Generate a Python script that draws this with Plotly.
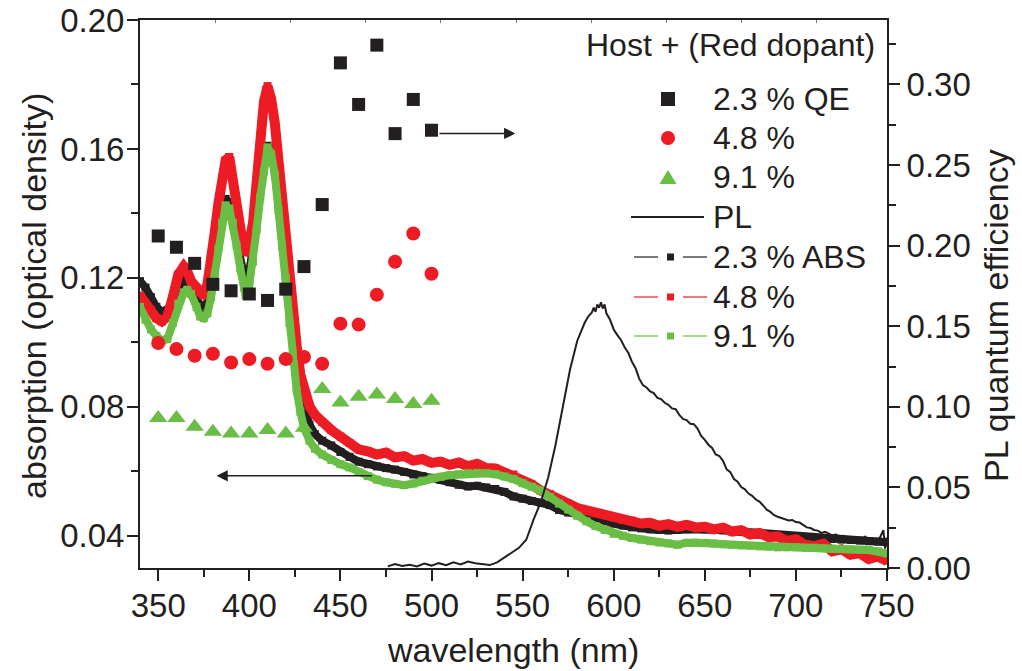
import plotly.graph_objects as go

FONT = "Liberation Sans, Arial, Helvetica, sans-serif"
INK = "#231f20"
RED = "#ed1c24"
GREEN = "#6abd45"

# ---------------- data ----------------
abs_wl = [340, 343, 346, 349, 352, 355, 358, 361, 364, 366,
          368, 371, 373, 375, 377, 379, 381, 383, 385, 387,
          389, 391, 393, 395, 397, 398, 400, 402, 404, 406,
          408, 410, 412, 414, 416, 418, 420, 422, 424, 426,
          428, 430, 433, 436, 440, 445, 450, 455, 460, 465,
          470, 475, 480, 485, 490, 495, 500, 505, 510, 515,
          520, 525, 530, 535, 540, 545, 550, 555, 560, 565,
          570, 575, 580, 585, 590, 595,
          600, 605, 610, 615, 620, 625, 630, 635, 640, 645,
          650, 655, 660, 665, 670, 675, 680, 685, 690, 695,
          700, 705, 710, 715, 720, 725, 730, 735, 740, 745, 750]

abs_23 = [0.119, 0.117, 0.114, 0.111, 0.1095, 0.110, 0.113, 0.117, 0.1192, 0.119,
          0.117, 0.114, 0.1115, 0.1108, 0.112, 0.116, 0.122, 0.130, 0.138, 0.1445,
          0.1435, 0.139, 0.133, 0.126, 0.1205, 0.1195, 0.122, 0.128, 0.137, 0.147,
          0.155, 0.161, 0.159, 0.153, 0.143, 0.132, 0.121, 0.109, 0.097, 0.089,
          0.083, 0.079, 0.0745, 0.0715, 0.0695, 0.068, 0.066, 0.0645, 0.063, 0.0622,
          0.0615, 0.061, 0.0605, 0.0598, 0.059, 0.0585, 0.058, 0.0573, 0.0566, 0.0558,
          0.0553, 0.0555, 0.055, 0.0545, 0.0536, 0.0522, 0.0515, 0.0508, 0.0503, 0.0495,
          0.048, 0.0472, 0.0465, 0.046, 0.0457, 0.0445,
          0.0438, 0.0432, 0.0426, 0.0423, 0.042, 0.0418, 0.0416, 0.0418, 0.042, 0.0421,
          0.042, 0.0419, 0.0417, 0.0415, 0.0412, 0.0409, 0.0406, 0.0403, 0.040, 0.0398,
          0.0395, 0.0394, 0.0392, 0.0391, 0.039, 0.0388, 0.0387, 0.0385, 0.0383, 0.0382, 0.038]

abs_48 = [0.1145, 0.112, 0.110, 0.1075, 0.1065, 0.108, 0.114, 0.121, 0.1235, 0.122,
          0.119, 0.1168, 0.1155, 0.1145, 0.118, 0.124, 0.134, 0.143, 0.151, 0.1565,
          0.1575, 0.150, 0.140, 0.1335, 0.1285, 0.1283, 0.131, 0.137, 0.150, 0.164,
          0.1745, 0.1795, 0.1755, 0.168, 0.155, 0.142, 0.129, 0.119, 0.108, 0.099,
          0.090, 0.085, 0.0802, 0.0775, 0.0752, 0.0728, 0.0708, 0.0688, 0.0668, 0.0662,
          0.0652, 0.0658, 0.0643, 0.0647, 0.0633, 0.0638, 0.0626, 0.0630, 0.0620, 0.0627,
          0.0616, 0.0623, 0.0610, 0.0609, 0.0596, 0.0590, 0.0570, 0.0559, 0.0540, 0.0529,
          0.0510, 0.0500, 0.0486, 0.0480, 0.0470, 0.0464,
          0.0457, 0.0449, 0.0447, 0.0438, 0.0440, 0.0431, 0.0436, 0.0428, 0.0434, 0.0426,
          0.0428, 0.0420, 0.0425, 0.0413, 0.0417, 0.0404, 0.0409, 0.0396, 0.0398, 0.0384,
          0.0389, 0.0372, 0.0368, 0.0375, 0.0352, 0.0358, 0.0341, 0.0346, 0.0328, 0.0336, 0.0322]

abs_91 = [0.111, 0.107, 0.104, 0.102, 0.1005, 0.101, 0.106, 0.112, 0.1155, 0.1162,
          0.115, 0.111, 0.108, 0.1075, 0.109, 0.114, 0.121, 0.129, 0.137, 0.1425,
          0.1415, 0.137, 0.130, 0.123, 0.117, 0.1145, 0.118, 0.125, 0.135, 0.145,
          0.153, 0.1605, 0.1585, 0.152, 0.141, 0.130, 0.120, 0.106, 0.094, 0.085,
          0.0785, 0.0735, 0.0695, 0.067, 0.0652, 0.0635, 0.0622, 0.0612, 0.0598, 0.0585,
          0.0574, 0.0566, 0.0561, 0.0557, 0.0562, 0.0571, 0.0578, 0.0583, 0.0588, 0.0591,
          0.0594, 0.0595, 0.0594, 0.0591, 0.0584, 0.0576, 0.0563, 0.0552, 0.054, 0.052,
          0.050, 0.0481, 0.0462, 0.0445, 0.043, 0.0418,
          0.0406, 0.0400, 0.0393, 0.0388, 0.0383, 0.0379, 0.0376, 0.0372, 0.0378, 0.0379,
          0.0378, 0.0376, 0.0374, 0.0372, 0.0370, 0.0369, 0.0367, 0.0366, 0.0364, 0.0364,
          0.0364, 0.0363, 0.0363, 0.0361, 0.0360, 0.0359, 0.0358, 0.0357, 0.0356, 0.0352, 0.0345]

pl_wl = [476, 480, 484, 488, 492, 496, 500, 504, 508, 512,
         516, 520, 524, 528, 532, 536, 540, 544, 548, 552,
         556, 560, 564, 568, 572, 576, 580, 584, 586, 588,
         589, 590, 591, 592, 593, 594, 595, 596, 598, 600,
         602, 604, 606, 608, 610, 612, 614, 616, 618, 620,
         622, 624, 626, 628, 630, 632, 634, 636, 638, 640,
         642, 644, 646, 648, 650, 652, 654, 656, 658, 660,
         662, 664, 666, 668, 670, 672, 674, 676, 678, 680,
         682, 684, 686, 688, 690, 692, 694, 696, 698, 700,
         702, 704, 706, 708, 710, 712, 714, 716, 718, 720,
         722, 724, 726, 728, 730, 732, 734, 736, 738, 740,
         742, 744, 746, 748, 749, 750]

pl_int = [0.001, 0.0025, 0.0012, 0.002, 0.001, 0.0028, 0.0015, 0.003, 0.0018, 0.0035,
          0.0022, 0.004, 0.003, 0.0025, 0.0018, 0.0035, 0.0065, 0.009, 0.0125, 0.0175,
          0.030, 0.041, 0.056, 0.076, 0.099, 0.123, 0.141, 0.152, 0.156, 0.1585,
          0.1615, 0.159, 0.1635, 0.1615, 0.1648, 0.161, 0.1635, 0.158, 0.154, 0.148,
          0.1445, 0.1415, 0.137, 0.1335, 0.128, 0.124, 0.1175, 0.1135, 0.112, 0.1095,
          0.1085, 0.1055, 0.1048, 0.1025, 0.1012, 0.099, 0.0985, 0.095, 0.0925, 0.0918,
          0.0895, 0.0892, 0.0865, 0.082, 0.0795, 0.0765, 0.0745, 0.0705, 0.0695, 0.0665,
          0.0612, 0.0595, 0.0552, 0.0535, 0.0502, 0.0488, 0.0462, 0.0448, 0.0425, 0.0412,
          0.0388, 0.0362, 0.0348, 0.0328, 0.0318, 0.031, 0.0302, 0.0295, 0.0298, 0.0285,
          0.0282, 0.0265, 0.0252, 0.0248, 0.0236, 0.0232, 0.0218, 0.0225, 0.0212, 0.0203,
          0.0208, 0.0194, 0.0199, 0.0186, 0.0192, 0.0178, 0.0188, 0.0176, 0.0195, 0.0172,
          0.0185, 0.0168, 0.0186, 0.0235, 0.012, 0.019]

qe_wl = [350, 360, 370, 380, 390, 400, 410, 420, 430, 440, 450, 460, 470, 480, 490, 500]
qe_23 = [0.206, 0.199, 0.189, 0.176, 0.172, 0.170, 0.166, 0.173, 0.187, 0.2255,
         0.3134, 0.2876, 0.3244, 0.2695, 0.2907, 0.2716]
qe_48 = [0.1396, 0.1358, 0.1317, 0.1329, 0.1275, 0.1296, 0.1267, 0.1296, 0.1309, 0.1267,
         0.1516, 0.151, 0.1696, 0.190, 0.2075, 0.1826]
qe_91 = [0.093, 0.093, 0.0876, 0.0845, 0.0835, 0.0835, 0.0856, 0.0835, 0.087, 0.111,
         0.1027, 0.1063, 0.1077, 0.1048, 0.1017, 0.1038]

x_ticks = [350, 400, 450, 500, 550, 600, 650, 700, 750]
x_minor = [375, 425, 475, 525, 575, 625, 675, 725]
yl_ticks = [0.04, 0.08, 0.12, 0.16, 0.20]
yl_minor = [0.06, 0.10, 0.14, 0.18]
yr_ticks = [0.00, 0.05, 0.10, 0.15, 0.20, 0.25, 0.30]
yr_minor = [0.025, 0.075, 0.125, 0.175, 0.225, 0.275, 0.325]
top_ticks = [381.4, 422.7, 463.9, 505.2, 546.4, 587.7, 628.9, 670.2, 711.4]

legend_title = "Host + (Red dopant)"
legend_items = [
    ("2.3 % QE", "square", INK),
    ("4.8 %", "circle", RED),
    ("9.1 %", "triangle", GREEN),
    ("PL", "line", INK),
    ("2.3 % ABS", "abs", INK),
    ("4.8 %", "abs", RED),
    ("9.1 %", "abs", GREEN),
]

# ---------------- geometry ----------------
W, H = 1022, 671
L, R, T, B = 140, 887, 20, 568


def fx(px):
    return (px - L) / (R - L)


def fy(py):
    return (B - py) / (B - T)


fig = go.Figure()

for ys, col, lw in [(abs_23, INK, 8), (abs_48, RED, 10), (abs_91, GREEN, 8)]:
    fig.add_trace(go.Scatter(
        x=abs_wl, y=ys, mode="lines+markers", yaxis="y",
        line=dict(color=col, width=lw),
        marker=dict(symbol="square", size=8, color=col, line=dict(width=0)),
        showlegend=False, hoverinfo="skip"))

fig.add_trace(go.Scatter(
    x=pl_wl, y=pl_int, mode="lines", yaxis="y2",
    line=dict(color=INK, width=2), showlegend=False, hoverinfo="skip"))

for ys, sym, col, sz in [(qe_23, "square", INK, 13), (qe_48, "circle", RED, 14),
                         (qe_91, "triangle-up", GREEN, 16)]:
    fig.add_trace(go.Scatter(
        x=qe_wl, y=ys, mode="markers", yaxis="y2",
        marker=dict(symbol=sym, size=sz, color=col, line=dict(width=0)),
        showlegend=False, hoverinfo="skip"))

# dummy trace for the top tick axis
fig.add_trace(go.Scatter(x=[None], y=[None], xaxis="x2", yaxis="y",
                         showlegend=False, hoverinfo="skip"))

tickfont = dict(family=FONT, size=33, color=INK)

fig.update_layout(
    template="none",
    width=W, height=H, autosize=False,
    margin=dict(l=L, r=W - R, t=T, b=H - B, pad=0, autoexpand=False),
    paper_bgcolor="white", plot_bgcolor="white",
    font=dict(family=FONT, color=INK),
    showlegend=False,
    xaxis=dict(range=[340, 750], tickvals=x_ticks, ticks="outside", ticklen=11,
               tickwidth=2, tickcolor=INK, showline=True, linewidth=2, linecolor=INK,
               mirror=True, showgrid=False, zeroline=False, tickfont=tickfont,
               automargin=False, ticklabelstandoff=-4,
               minor=dict(tickvals=x_minor, ticks="outside", ticklen=7, tickwidth=2,
                          tickcolor=INK, showgrid=False)),
    xaxis2=dict(range=[340, 750], overlaying="x", side="top", anchor="y",
                tickvals=top_ticks, ticks="inside", ticklen=3, tickwidth=1,
                tickcolor="#777777", showticklabels=False, showline=False,
                showgrid=False, zeroline=False, automargin=False),
    yaxis=dict(range=[0.03, 0.20], tickvals=yl_ticks, tickformat=".2f",
               ticks="outside", ticklen=11, tickwidth=2, tickcolor=INK,
               showline=True, linewidth=2, linecolor=INK, showgrid=False,
               zeroline=False, tickfont=tickfont, automargin=False,
               ticklabelstandoff=-4,
               minor=dict(tickvals=yl_minor, ticks="outside", ticklen=7, tickwidth=2,
                          tickcolor=INK, showgrid=False)),
    yaxis2=dict(range=[0, 0.34], overlaying="y", side="right", anchor="x",
                tickvals=yr_ticks, tickformat=".2f", ticks="outside", ticklen=11,
                tickwidth=2, tickcolor=INK, showline=True, linewidth=2,
                linecolor=INK, showgrid=False, zeroline=False, tickfont=tickfont,
                automargin=False,
                minor=dict(tickvals=yr_minor, ticks="outside", ticklen=7,
                           tickwidth=2, tickcolor=INK, showgrid=False)),
)

annotations = []
shapes = []

# axis titles
title_font = dict(family=FONT, size=34, color=INK)
annotations.append(dict(text="wavelength (nm)", xref="paper", yref="paper",
                        x=fx(513), y=fy(650), xanchor="center", yanchor="middle",
                        showarrow=False, font=title_font))
annotations.append(dict(text="absorption (optical density)", xref="paper", yref="paper",
                        x=fx(34), y=fy(296), xanchor="center", yanchor="middle",
                        textangle=-90, showarrow=False, font=title_font))
annotations.append(dict(text="PL quantum efficiency", xref="paper", yref="paper",
                        x=fx(996), y=fy(316), xanchor="center", yanchor="middle",
                        textangle=-90, showarrow=False, font=title_font))

# arrows pointing to the axes
annotations.append(dict(x=382, y=0.0586, ax=468, ay=0.0586, xref="x", yref="y",
                        axref="x", ayref="y", showarrow=True, arrowhead=2,
                        arrowsize=1.5, arrowwidth=1.5, arrowcolor=INK, text=""))
annotations.append(dict(x=546, y=0.2696, ax=503.5, ay=0.2696, xref="x", yref="y2",
                        axref="x", ayref="y2", showarrow=True, arrowhead=2,
                        arrowsize=1.5, arrowwidth=1.5, arrowcolor=INK, text=""))

# legend (drawn by hand to match the original layout)
leg_font = dict(family=FONT, size=32, color=INK)
annotations.append(dict(text=legend_title, xref="paper", yref="paper",
                        x=fx(877), y=fy(45), xanchor="right", yanchor="middle",
                        showarrow=False, font=leg_font))
row_y = [99, 138, 177, 217, 257, 297, 336]
for (label, kind, col), py in zip(legend_items, row_y):
    annotations.append(dict(text=label, xref="paper", yref="paper",
                            x=fx(711), y=fy(py), xanchor="left", yanchor="middle",
                            showarrow=False, font=leg_font))
    if kind == "square":
        shapes.append(dict(type="rect", xref="paper", yref="paper",
                           x0=fx(661), x1=fx(675), y0=fy(py + 7), y1=fy(py - 7),
                           fillcolor=col, line=dict(width=0)))
    elif kind == "circle":
        shapes.append(dict(type="circle", xref="paper", yref="paper",
                           x0=fx(661), x1=fx(675), y0=fy(py + 7), y1=fy(py - 7),
                           fillcolor=col, line=dict(width=0)))
    elif kind == "triangle":
        path = "M {:.5f} {:.5f} L {:.5f} {:.5f} L {:.5f} {:.5f} Z".format(
            fx(659.5), fy(py + 7), fx(676.5), fy(py + 7), fx(668), fy(py - 7))
        shapes.append(dict(type="path", xref="paper", yref="paper", path=path,
                           fillcolor=col, line=dict(width=0)))
    elif kind == "line":
        shapes.append(dict(type="line", xref="paper", yref="paper",
                           x0=fx(631), x1=fx(704), y0=fy(py), y1=fy(py),
                           line=dict(color=col, width=2)))
    elif kind == "abs":
        shapes.append(dict(type="line", xref="paper", yref="paper",
                           x0=fx(634), x1=fx(658), y0=fy(py), y1=fy(py),
                           line=dict(color=col, width=1.2)))
        shapes.append(dict(type="line", xref="paper", yref="paper",
                           x0=fx(683), x1=fx(707), y0=fy(py), y1=fy(py),
                           line=dict(color=col, width=1.2)))
        shapes.append(dict(type="rect", xref="paper", yref="paper",
                           x0=fx(667), x1=fx(674), y0=fy(py + 3.5), y1=fy(py - 3.5),
                           fillcolor=col, line=dict(width=0)))

fig.update_layout(annotations=annotations, shapes=shapes)

fig.write_html("out.html")
